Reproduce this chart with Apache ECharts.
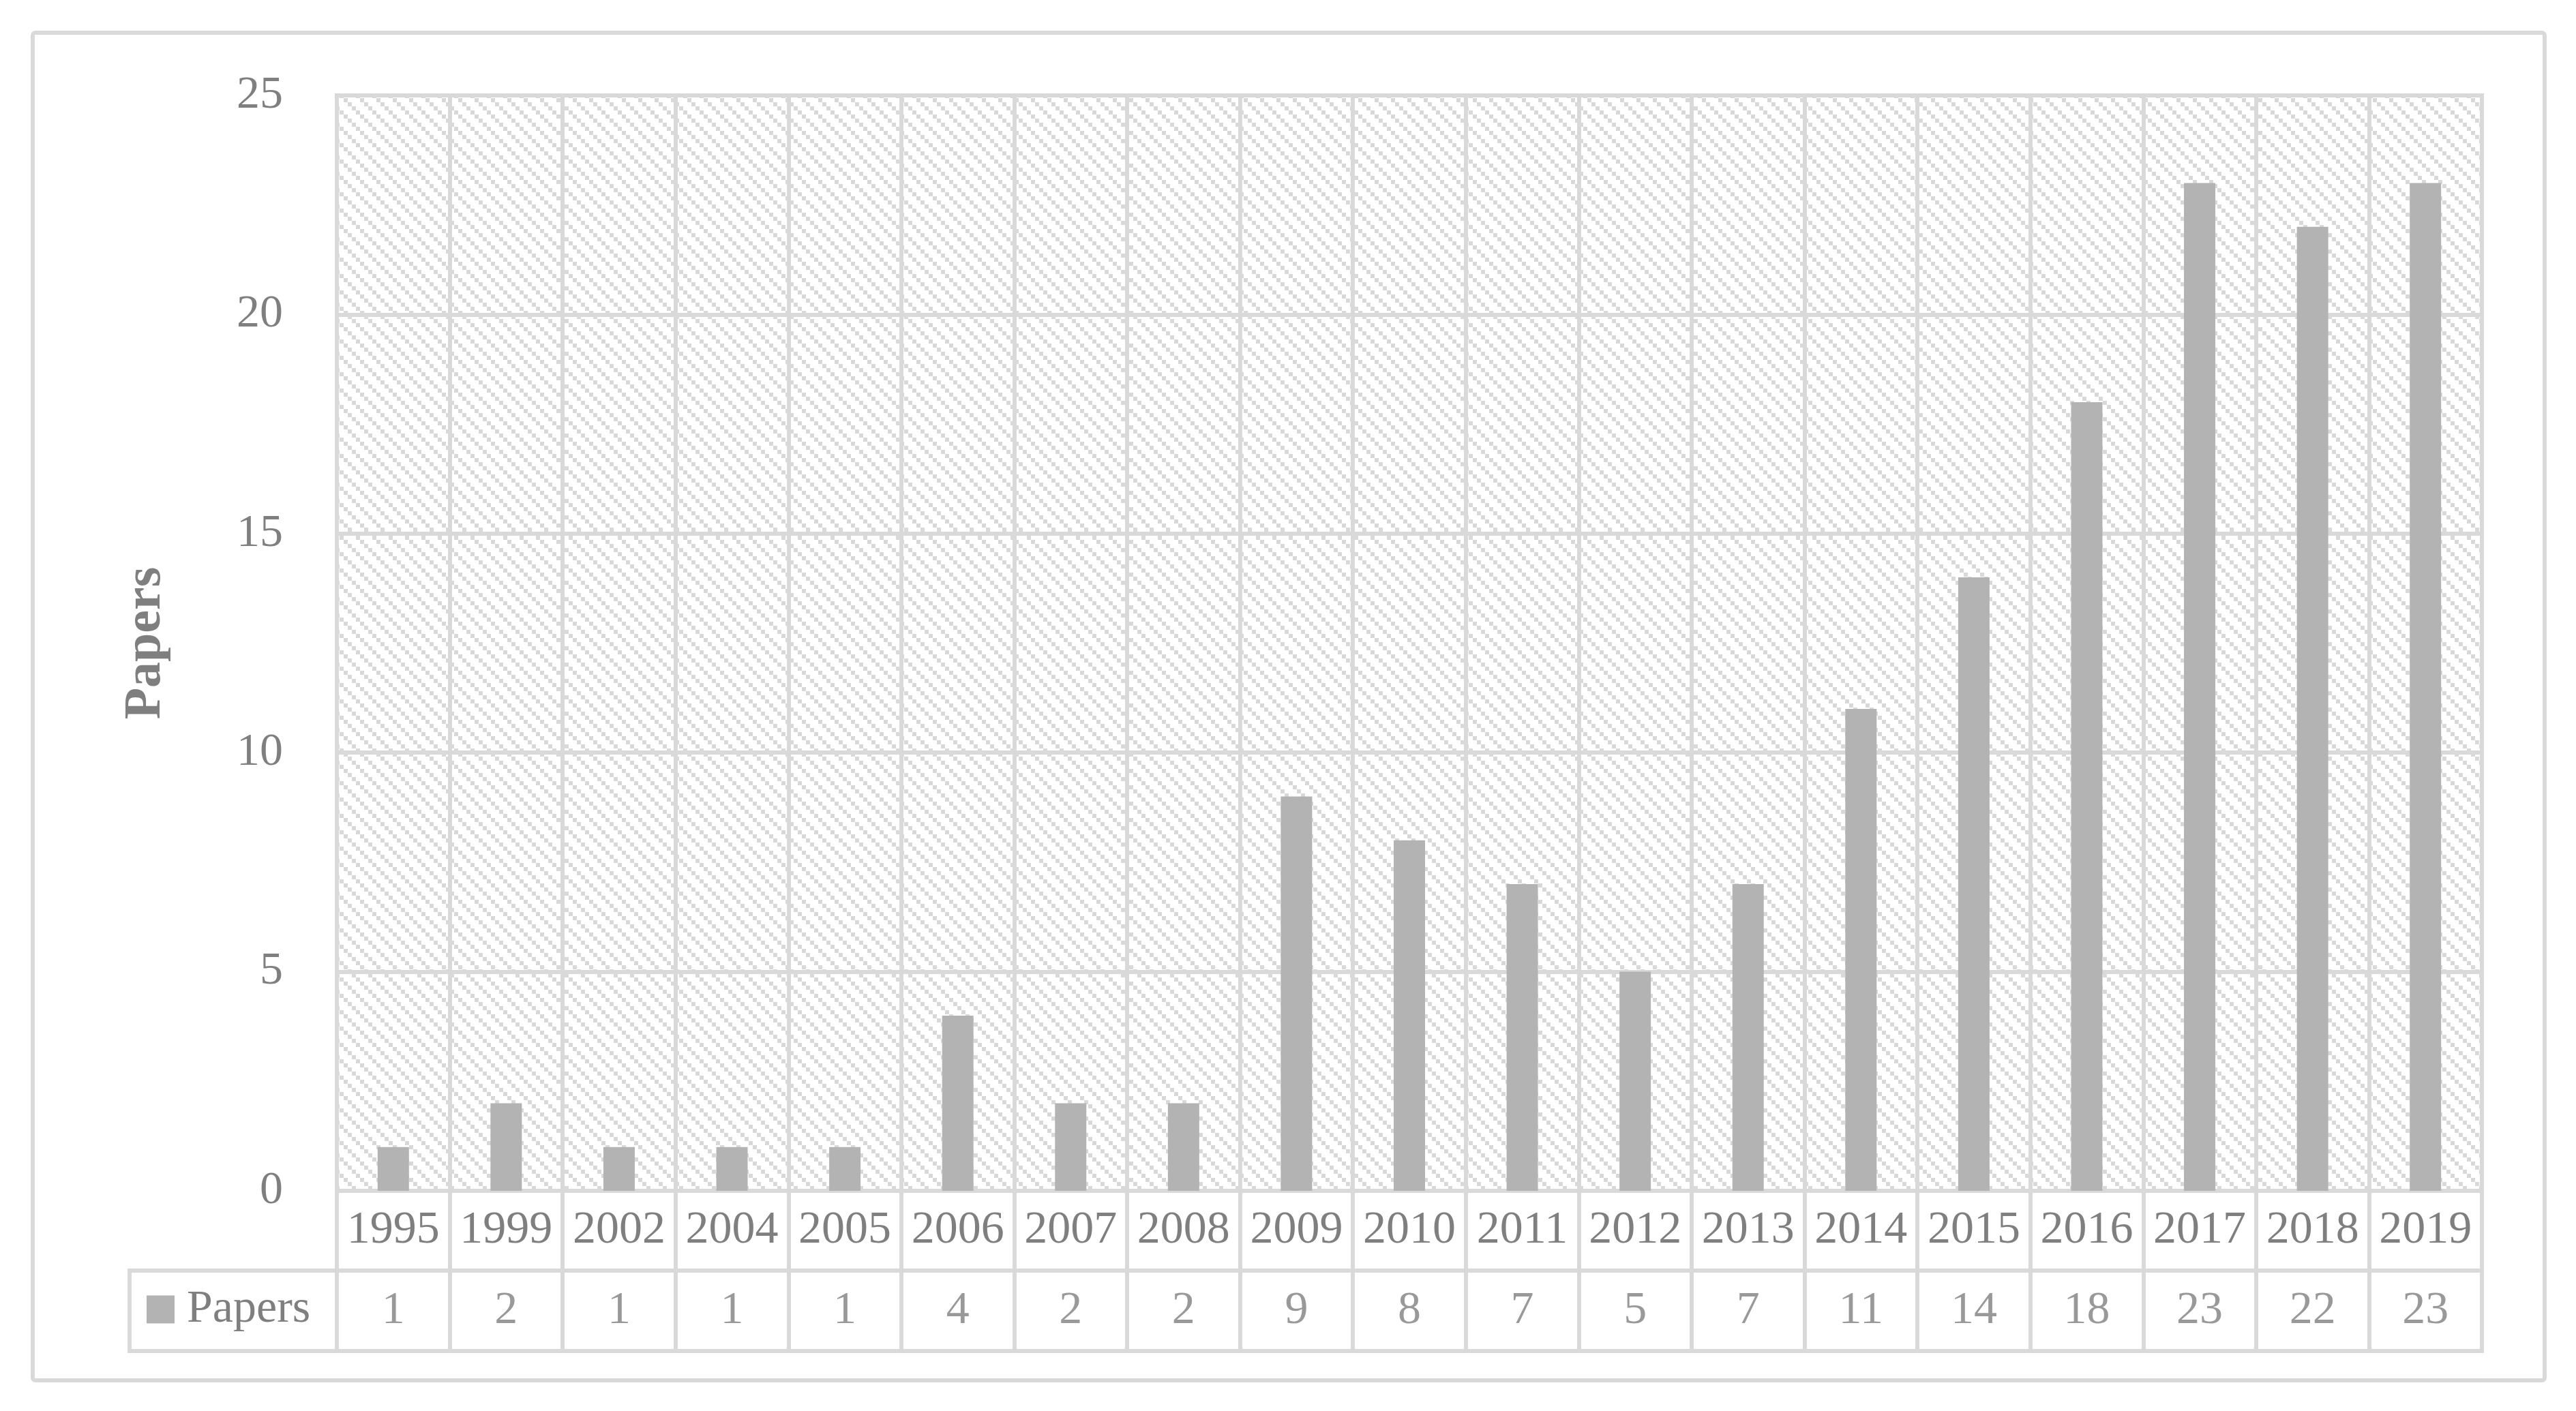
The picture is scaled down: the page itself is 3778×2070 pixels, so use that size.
<!DOCTYPE html>
<html>
<head>
<meta charset="utf-8">
<title>Papers per year</title>
<script src="https://cdn.jsdelivr.net/npm/echarts@6/dist/echarts.min.js"></script>
<style>
  html, body { margin: 0; padding: 0; background: #fff; }
  #main { width: 3778px; height: 2070px; }
</style>
</head>
<body>
<div id="main"></div>
<script>
var years = ['1995', '1999', '2002', '2004', '2005', '2006', '2007', '2008', '2009', '2010',
             '2011', '2012', '2013', '2014', '2015', '2016', '2017', '2018', '2019'];
var papers = [1, 2, 1, 1, 1, 4, 2, 2, 9, 8, 7, 5, 7, 11, 14, 18, 23, 22, 23];
var yTicks = [0, 25, 5]; // min, max, interval

var font = '"Liberation Serif", "DejaVu Serif", serif';
var textGray = '#7f7f7f';
var lineGray = '#d9d9d9';

// diagonal hatch used as plot background
function hatch() {
    var c = document.createElement('canvas');
    c.width = 24;
    c.height = 24;
    var g = c.getContext('2d');
    g.fillStyle = lineGray;
    for (var k = 0; k < 4; k++) {
        g.fillRect(k * 6, k * 6, 6, 6);
    }
    return c;
}

var chart = echarts.init(document.getElementById('main'));

var option = {
    backgroundColor: '#fff',
    animation: false,
    graphic: [{
        type: 'rect',
        shape: { x: 48, y: 48, width: 3684, height: 1977, r: 4 },
        style: { fill: 'none', stroke: lineGray, lineWidth: 6 },
        silent: true
    }],
    legend: {
        data: ['Papers'],
        left: 215,
        top: 1887,
        padding: 0,
        icon: 'rect',
        itemWidth: 41,
        itemHeight: 41,
        selectedMode: false,
        textStyle: {
            color: textGray,
            fontSize: 68,
            fontFamily: font,
            padding: [0, 0, 0, 13]
        }
    },
    grid: [{
        // plot area
        left: 494, right: 138, top: 140, height: 1607,
        show: true,
        backgroundColor: { image: hatch(), repeat: 'repeat' },
        borderColor: lineGray,
        borderWidth: 6
    }, {
        // value row of the data table
        left: 494, right: 138, top: 1864, height: 118,
        show: true,
        backgroundColor: 'transparent',
        borderColor: lineGray,
        borderWidth: 6
    }, {
        // legend cell of the data table
        left: 190, top: 1864, width: 304, height: 118,
        show: true,
        backgroundColor: 'transparent',
        borderColor: lineGray,
        borderWidth: 6
    }],
    xAxis: [{
        type: 'category',
        gridIndex: 0,
        data: years,
        axisLine: { show: true, lineStyle: { color: lineGray, width: 6 } },
        axisTick: { show: true, interval: 0, length: 117, lineStyle: { color: lineGray, width: 6 } },
        axisLabel: {
            interval: 0,
            margin: 58,
            verticalAlign: 'middle',
            color: textGray,
            fontSize: 68,
            fontFamily: font
        },
        splitLine: { show: true, interval: 0, lineStyle: { color: lineGray, width: 6 } }
    }, {
        type: 'category',
        gridIndex: 1,
        data: years,
        axisLine: { show: false },
        axisTick: { show: false },
        axisLabel: { show: false },
        splitLine: { show: true, interval: 0, lineStyle: { color: lineGray, width: 6 } }
    }, {
        type: 'value',
        gridIndex: 2,
        show: false
    }],
    yAxis: [{
        type: 'value',
        gridIndex: 0,
        min: yTicks[0],
        max: yTicks[1],
        interval: yTicks[2],
        name: 'Papers',
        nameLocation: 'middle',
        nameGap: 242,
        nameTextStyle: {
            color: textGray,
            fontSize: 76,
            fontWeight: 'bold',
            fontFamily: font
        },
        axisLine: { show: false },
        axisTick: { show: false },
        axisLabel: {
            margin: 79,
            color: textGray,
            fontSize: 68,
            fontFamily: font
        },
        splitLine: { show: true, lineStyle: { color: lineGray, width: 6 } }
    }, {
        type: 'value',
        gridIndex: 1,
        min: 0,
        max: 1,
        show: false,
        splitLine: { show: false }
    }, {
        type: 'value',
        gridIndex: 2,
        show: false
    }],
    series: [{
        name: 'Papers',
        type: 'bar',
        xAxisIndex: 0,
        yAxisIndex: 0,
        barWidth: 46,
        itemStyle: { color: '#b3b3b3' },
        data: papers
    }, {
        name: 'table',
        type: 'scatter',
        xAxisIndex: 1,
        yAxisIndex: 1,
        symbolSize: 1,
        silent: true,
        itemStyle: { color: 'rgba(0,0,0,0)' },
        label: {
            show: true,
            position: 'inside',
            formatter: function (p) { return p.value[2]; },
            color: textGray,
            fontSize: 68,
            fontFamily: font
        },
        data: papers.map(function (v, i) { return [years[i], 0.5, v]; })
    }]
};

chart.setOption(option);
</script>
</body>
</html>
